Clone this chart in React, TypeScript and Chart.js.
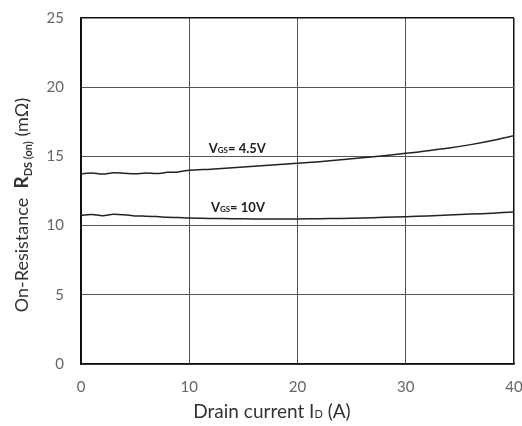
import React, { useEffect, useRef } from "react";
import { Chart, registerables } from "chart.js";

Chart.register(...registerables);

const drainCurrent = [0, 1, 2, 3, 4, 5, 6, 7, 8, 9, 10, 12, 14, 16, 18, 20, 22, 24, 26, 28, 30, 32, 34, 36, 38, 40];
const rds45 = [13.75, 13.8, 13.72, 13.82, 13.78, 13.74, 13.8, 13.76, 13.85, 13.88, 14.0, 14.08, 14.18, 14.28, 14.4, 14.5, 14.62, 14.75, 14.9, 15.05, 15.22, 15.4, 15.6, 15.85, 16.15, 16.5];
const rds10 = [10.75, 10.8, 10.72, 10.82, 10.78, 10.7, 10.68, 10.65, 10.6, 10.58, 10.55, 10.52, 10.5, 10.48, 10.47, 10.48, 10.5, 10.52, 10.55, 10.6, 10.64, 10.7, 10.76, 10.83, 10.9, 10.98];
const xTicks = [0, 10, 20, 30, 40];
const yTicks = [0, 5, 10, 15, 20, 25];
const curveLabels = [
  { main: "V", sub: "GS", rest: "= 4.5V", x: 11.8, y: 15.25 },
  { main: "V", sub: "GS", rest: "= 10V", x: 12.0, y: 11.0 },
];

const FONT = "Lato, 'Open Sans', sans-serif";

const annotations = {
  id: "annotations",
  afterDraw(chart: any) {
    const ctx = chart.ctx;
    const xs = chart.scales.x;
    const ys = chart.scales.y;
    ctx.save();
    ctx.fillStyle = "#222";
    ctx.textBaseline = "alphabetic";
    for (const l of curveLabels) {
      let px = xs.getPixelForValue(l.x);
      const py = ys.getPixelForValue(l.y);
      ctx.font = `bold 13px ${FONT}`;
      ctx.fillText(l.main, px, py);
      px += ctx.measureText(l.main).width;
      ctx.font = `bold 8px ${FONT}`;
      ctx.fillText(l.sub, px, py);
      px += ctx.measureText(l.sub).width;
      ctx.font = `bold 13px ${FONT}`;
      ctx.fillText(l.rest, px, py);
    }
    ctx.restore();

    // X axis title
    ctx.save();
    ctx.fillStyle = "#333";
    const xParts = [
      { t: "Drain current I", f: `19px ${FONT}`, dy: 0 },
      { t: "D", f: `11px ${FONT}`, dy: 0 },
      { t: " (A)", f: `19px ${FONT}`, dy: 0 },
    ];
    let total = 0;
    for (const p of xParts) { ctx.font = p.f; total += ctx.measureText(p.t).width; }
    let cx = 272 - total / 2;
    const by = 418;
    for (const p of xParts) {
      ctx.font = p.f;
      ctx.fillText(p.t, cx, by + p.dy);
      cx += ctx.measureText(p.t).width;
    }
    ctx.restore();

    // Y axis title
    ctx.save();
    ctx.translate(28, 205);
    ctx.rotate(-Math.PI / 2);
    ctx.fillStyle = "#333";
    const yParts = [
      { t: "On-Resistance  ", f: `18px ${FONT}`, dy: 0 },
      { t: "R", f: `bold 19px ${FONT}`, dy: 0 },
      { t: "DS (on)", f: `bold 11px ${FONT}`, dy: 4 },
      { t: " (mΩ)", f: `18px ${FONT}`, dy: 0 },
    ];
    total = 0;
    for (const p of yParts) { ctx.font = p.f; total += ctx.measureText(p.t).width; }
    let tx = -total / 2;
    for (const p of yParts) {
      ctx.font = p.f;
      ctx.fillText(p.t, tx, p.dy);
      tx += ctx.measureText(p.t).width;
    }
    ctx.restore();
  },
};

export default function App() {
  const ref = useRef<HTMLCanvasElement>(null);
  useEffect(() => {
    document.body.style.margin = "0";
    const chart = new Chart(ref.current!, {
      type: "line",
      data: {
        labels: drainCurrent,
        datasets: [
          { label: "VGS=4.5V", data: drainCurrent.map((x, i) => ({ x, y: rds45[i] })), borderColor: "#222", borderWidth: 1.5, pointRadius: 0, tension: 0.3 },
          { label: "VGS=10V", data: drainCurrent.map((x, i) => ({ x, y: rds10[i] })), borderColor: "#222", borderWidth: 1.5, pointRadius: 0, tension: 0.3 },
        ],
      },
      options: {
        animation: false,
        responsive: false,
        maintainAspectRatio: false,
        layout: { padding: { left: 0, top: 18, right: 8, bottom: 0 } },
        plugins: { legend: { display: false }, tooltip: { enabled: false } },
        scales: {
          x: {
            type: "linear",
            min: 0,
            max: 40,
            afterBuildTicks: (s: any) => { s.ticks = xTicks.map((v) => ({ value: v })); },
            afterFit: (s: any) => { s.height = 62; s.paddingLeft = 0; s.paddingRight = 0; },
            grid: { color: (c: any) => (c.tick && (c.tick.value === 40 || c.tick.value === 0) ? "#111" : "#555"), lineWidth: (c: any) => (c.tick && c.tick.value === 40 ? 1.5 : 1), drawTicks: false },
            border: { display: true, color: "#111", width: 1.5 },
            ticks: { padding: 14, color: "#666", font: { family: FONT, size: 15 } },
          },
          y: {
            min: 0,
            max: 25,
            afterBuildTicks: (s: any) => { s.ticks = yTicks.map((v) => ({ value: v })); },
            afterFit: (s: any) => { s.width = 81; s.paddingTop = 0; s.paddingBottom = 0; },
            grid: { color: (c: any) => (c.tick && c.tick.value === 25 ? "#111" : "#555"), lineWidth: (c: any) => (c.tick && c.tick.value === 25 ? 1.5 : 1), drawTicks: false },
            border: { display: true, color: "#111", width: 1.5 },
            ticks: { padding: 17, color: "#666", font: { family: FONT, size: 15 } },
          },
        },
      },
      plugins: [annotations],
    } as any);
    return () => chart.destroy();
  }, []);
  return (
    <div style={{ width: 522, height: 426, background: "#fff" }}>
      <canvas ref={ref} width={522} height={426} style={{ display: "block", width: 522, height: 426 }} />
    </div>
  );
}
